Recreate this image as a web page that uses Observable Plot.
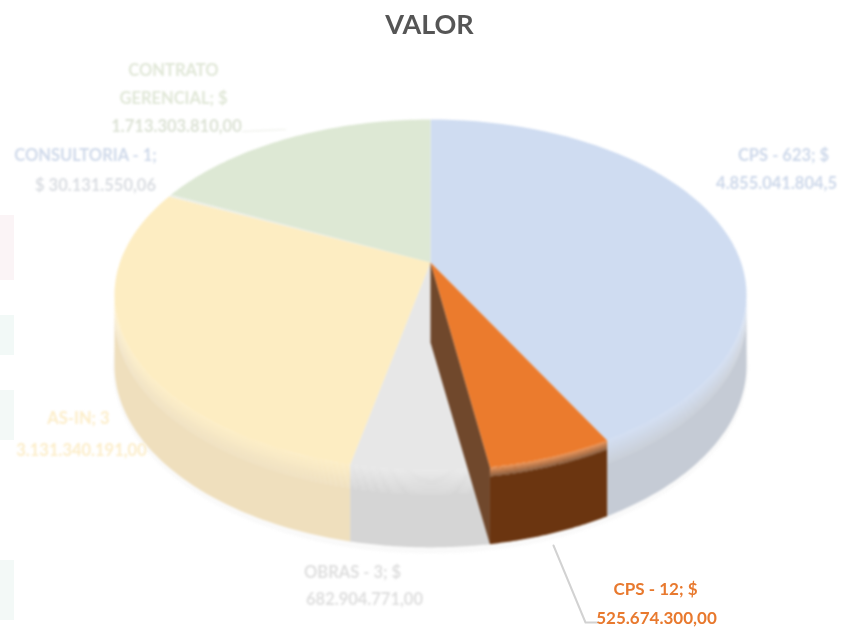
<!DOCTYPE html>
<html>
<head>
<meta charset="utf-8">
<script src="https://cdn.jsdelivr.net/npm/d3@7"></script>
<script src="https://cdn.jsdelivr.net/npm/@observablehq/plot@0.6"></script>
<style>
  html, body { margin: 0; padding: 0; background: #fff; }
  svg { display: block; }
  .pie { filter: blur(0.9px); }
  .pale { filter: blur(1.2px); }
  .strong { filter: blur(0.7px); }
</style>
</head>
<body>
<div id="chart"></div>
<script>
// Slices, clockwise from 12 o'clock. Shares (%) are read from the drawn wedges.
const categories = ["CPS - 623", "CPS - 12", "OBRAS", "AS-IN", "CONSULTORIA", "CONTRATO GERENCIAL"];
const shares = [42.1, 5.4, 5.9, 28.5, 0.2, 17.9];
const topColors = ["#CFDCF1", "#EB7B2D", "#E7E7E7", "#FDEDC2", "#EDEFE8", "#DDE8D4"];
const wallColors = ["#C5CBD5", "#6B3510", "#D5D5D5", "#EFDFBD", "#D8DDE5", "#D0DAC6"];

// Data labels, as printed beside the pie.
const labelTexts = [
  "CPS - 623; $", "4.855.041.804,5",
  "CPS - 12; $", "525.674.300,00",
  "OBRAS - 3; $", "682.904.771,00",
  "AS-IN; 3", "3.131.340.191,00",
  "CONSULTORIA - 1;", "$ 30.131.550,06",
  "CONTRATO", "GERENCIAL; $", "1.713.303.810,00"
];
const labelX = [783, 776, 655, 656, 352, 364, 78, 81, 85, 95, 173, 173, 176];
const labelY = [155, 183, 589, 618, 572, 599, 418, 450, 155, 185, 70, 98, 126];
const labelColors = ["#CDD8EA", "#CDD8EA", "#E8792E", "#E8792E", "#DEDEDE", "#DEDEDE",
  "#FCEDC8", "#FCEDC8", "#CFD9EA", "#DADDE2", "#E0E7D7", "#E0E7D7", "#DCE2D5"];

// Leader lines
const leaderX = [553, 585, 597], leaderY = [545, 622, 622];
const faintX = [242, 285], faintY = [131, 129];

// Faint scan remnants at the left edge
const remnantY1 = [215, 315, 390, 560], remnantY2 = [280, 355, 440, 620];
const remnantColors = ["#FBF4F6", "#F2F9F7", "#F3F9F7", "#F3F9F7"];

// Perspective of the pie disc
const cx = 430, apexY = 262, R = 310.6, a = 121, c = -0.185;
const project = th => {
  const u = Math.sin(th), v = -Math.cos(th), d = 1 + c * v;
  return [cx + R * u / d, (a * v + apexY) / d];
};
const drop = ([x, y], t) => [x, y + t * (365 + (y - 295) * 183 / 176 - y)];
const rad = d => d * Math.PI / 180;
const visL = rad(259.3), visR = rad(100.7);

const total = d3.sum(shares);
let acc = 0;
const slices = shares.map((s, i) => {
  const start = acc / total * 2 * Math.PI;
  acc += s;
  return { i, start, end: acc / total * 2 * Math.PI };
});
const arc = (a0, a1) => d3.range(0, 61).map(k => project(a0 + (a1 - a0) * k / 60));

const rowsOf = (pts, z, fill) => pts.map(([x, y]) => ({ x, y, z, fill }));

const wallBands = (s, fade) => {
  const a0 = Math.max(s.start, visR), a1 = Math.min(s.end, visL);
  if (a1 <= a0) return [];
  const top = arc(a0, a1);
  const col = d3.interpolateRgb(topColors[s.i], wallColors[s.i]);
  const n = 12;
  const steps = d3.range(0, n + 1).map(k => k / n * fade).concat(1);
  const out = [];
  for (let k = 0; k + 1 < steps.length; k++) {
    const band = top.map(p => drop(p, steps[k])).concat(top.map(p => drop(p, steps[k + 1])).reverse());
    out.push(...rowsOf(band, `w${s.i}-${k}`, d3.color(col(Math.min(1, (k + .5) / n))).formatHex()));
  }
  return out;
};
const apex = [cx, apexY];
const topOf = s => rowsOf([apex, ...arc(s.start, s.end)], `t${s.i}`, topColors[s.i]);

const orange = slices[1];
const rimP = project(orange.end);
const facetColor = "#70482C";
const facet = rowsOf([apex, [cx, apexY + 80], drop(rimP, 1), rimP], "facet", facetColor);

// Soft shadow beneath the pie
const shadow = rowsOf(d3.range(0, 121).map(k => {
  const t = k / 120 * 2 * Math.PI;
  return [cx + 318 * Math.sin(t), 367 - 186 * Math.cos(t)];
}), "shadow", "#FAFAFA");

const backRows = [
  ...shadow,
  ...slices.filter(s => s.i !== 1).flatMap(s => wallBands(s, 0.3)),
  ...slices.filter(s => s.i !== 1).flatMap(topOf),
  ...facet,
  ...wallBands(orange, 0.12),
  ...topOf(orange)
];

const labelRows = labelTexts.map((t, i) => ({ t, x: labelX[i], y: labelY[i], c: labelColors[i] }));
const isOrange = d => d.c === "#E8792E";
const font = "Lato, Carlito, 'Open Sans', sans-serif";

const chart = Plot.plot({
  width: 850, height: 633, margin: 0,
  style: { background: "#fff", overflow: "hidden" },
  x: { domain: [0, 850], axis: null },
  y: { domain: [633, 0], axis: null },
  color: { type: "identity" },
  marks: [
    Plot.rect(remnantY1.map((y, i) => ({ y1: y, y2: remnantY2[i], c: remnantColors[i] })), {
      x1: () => 0, x2: () => 14, y1: "y1", y2: "y2", fill: "c"
    }),
    Plot.line(backRows, { x: "x", y: "y", z: "z", fill: "fill", stroke: null, curve: "linear", className: "pie" }),
    Plot.line(leaderX.map((x, i) => ({ x, y: leaderY[i] })), { x: "x", y: "y", stroke: "#D2D2D2", strokeWidth: 2, className: "strong" }),
    Plot.line(faintX.map((x, i) => ({ x, y: faintY[i] })), { x: "x", y: "y", stroke: "#EEF0EA", strokeWidth: 1.2, className: "pale" }),
    Plot.text(labelRows.filter(d => !isOrange(d)), {
      x: "x", y: "y", text: "t", fill: "c", fontSize: 16.5, fontWeight: 700, fontFamily: font, className: "pale"
    }),
    Plot.text(labelRows.filter(isOrange), {
      x: "x", y: "y", text: "t", fill: "c", fontSize: 17, fontWeight: 700, fontFamily: font, className: "strong"
    }),
    Plot.text(["VALOR"], {
      x: () => 429, y: () => 25, text: d => d, fill: "#555555", fontSize: 27, fontWeight: 700, fontFamily: font, className: "strong"
    })
  ]
});
document.getElementById("chart").appendChild(chart);
</script>
</body>
</html>
